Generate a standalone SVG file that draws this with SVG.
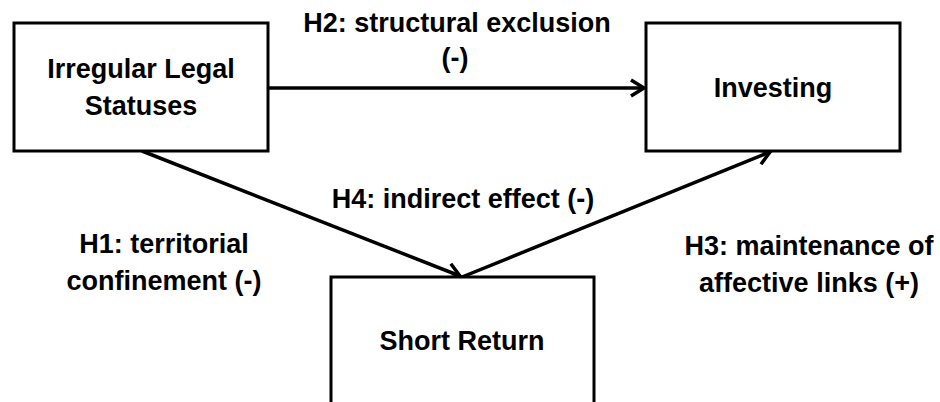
<svg xmlns="http://www.w3.org/2000/svg" width="940" height="402" viewBox="0 0 940 402">
<style>
.box{fill:#fff;stroke:#000;stroke-width:3}
.t{font-family:"Liberation Sans",Arial,sans-serif;font-weight:bold;font-size:27px;fill:#000;text-anchor:middle}
.c{stroke:#000;stroke-width:3.5;fill:none}
</style>
<defs>
<marker id="ah" markerUnits="userSpaceOnUse" markerWidth="30" markerHeight="30" viewBox="-20 -15 30 30" refX="0" refY="0" orient="auto" overflow="visible">
<path d="M-13,-8 L0,0 L-13,8" fill="none" stroke="#000" stroke-width="3.5" stroke-linejoin="miter"/>
</marker>
</defs>
<rect width="940" height="402" fill="#fff"/>
<g id="connectors">
<line class="c" x1="268" y1="88" x2="644" y2="88" marker-end="url(#ah)"/>
<line class="c" x1="142" y1="151" x2="460" y2="276" marker-end="url(#ah)"/>
<line class="c" x1="462" y1="277" x2="770" y2="152" marker-end="url(#ah)"/>
</g>
<g id="irregular">
<rect class="box" x="14" y="23" width="254" height="128"/>
<text class="t" x="141" y="78">Irregular Legal</text>
<text class="t" x="141" y="115">Statuses</text>
</g>
<g id="investing">
<rect class="box" x="646" y="23" width="254" height="128"/>
<text class="t" x="773" y="97">Investing</text>
</g>
<g id="shortreturn">
<rect class="box" x="331" y="277" width="263" height="140"/>
<text class="t" x="462" y="350">Short Return</text>
</g>
<g id="labels">
<text class="t" x="457" y="32">H2: structural exclusion</text>
<text class="t" x="455" y="67">(-)</text>
<text class="t" x="463" y="208">H4: indirect effect (-)</text>
<text class="t" x="164" y="253">H1: territorial</text>
<text class="t" x="164" y="290">confinement (-)</text>
<text class="t" x="809" y="255">H3: maintenance of</text>
<text class="t" x="809" y="292">affective links (+)</text>
</g>
</svg>
